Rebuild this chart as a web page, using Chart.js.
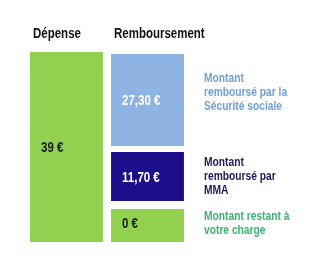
<!DOCTYPE html>
<html>
<head>
<meta charset="utf-8">
<script src="https://cdn.jsdelivr.net/npm/chart.js@4"></script>
<style>
  html, body { margin: 0; padding: 0; background: #fff; }
  #wrap { width: 325px; height: 260px; }
</style>
</head>
<body>
<div id="wrap"><canvas id="chart"></canvas></div>
<script>
const categories = ['Dépense', 'Remboursement'];
// amounts shown in the boxes
const depense = 39;
const partLabels = ['Montant restant à\nvotre charge', 'Montant\nremboursé par\nMMA', 'Montant\nremboursé par la\nSécurité sociale'];
const partAmounts = [0, 11.70, 27.30];
// box heights as drawn in the infographic (not to scale), read in € units of the 39 € column
const partHeights = [7.6, 11.5, 19.9];
const partColors = ['#92d050', '#1d0e8b', '#8db3e2'];
const partText = ['#3cb371', '#1d1a5e', '#6f9fd8'];
const boxText = ['#1a1a1a', '#ffffff', '#ffffff'];

// Arial Narrow look: Liberation Sans squeezed horizontally
const FONT = '"Liberation Sans", Arial, sans-serif';
const NARROW = 0.82;
const euro = v => (v === 0 ? '0' : Number.isInteger(v) ? String(v) : v.toFixed(2).replace('.', ',')) + ' €';

function narrowText(ctx, t, x, y) {
  ctx.save();
  ctx.translate(x, y);
  ctx.scale(NARROW, 1);
  ctx.fillText(t, 0, 0);
  ctx.restore();
}

const datasets = [{
  label: categories[0],
  data: [depense, null],
  backgroundColor: partColors[0],
  amount: depense,
  boxColor: '#1a1a1a',
  borderWidth: 0
}];
partHeights.forEach((h, i) => {
  datasets.push({
    label: partLabels[i],
    data: [null, h],
    backgroundColor: partColors[i],
    borderColor: '#ffffff',
    borderWidth: i === 0 ? { top: 4, bottom: 0, left: 0, right: 0 }
      : i === 1 ? { top: 3, bottom: 4, left: 0, right: 0 }
      : { top: 2, bottom: 3, left: 0, right: 0 },
    borderSkipped: false,
    amount: partAmounts[i],
    boxColor: boxText[i],
    sideColor: partText[i]
  });
});

const textPlugin = {
  id: 'texts',
  afterDatasetsDraw(chart) {
    const ctx = chart.ctx;
    ctx.save();
    ctx.textBaseline = 'middle';
    ctx.textAlign = 'left';
    // column headings
    ctx.font = 'bold 14px ' + FONT;
    ctx.fillStyle = '#111';
    categories.forEach((c, i) => {
      const bar = chart.getDatasetMeta(i === 0 ? 0 : 1).data[i];
      narrowText(ctx, c, bar.x - bar.width / 2 + 3, 34);
    });
    chart.data.datasets.forEach((ds, di) => {
      const bar = chart.getDatasetMeta(di).data[di === 0 ? 0 : 1];
      const top = Math.min(bar.y, bar.base), bottom = Math.max(bar.y, bar.base);
      const cy = (top + bottom) / 2;
      ctx.font = 'bold 14px ' + FONT;
      ctx.fillStyle = ds.boxColor;
      narrowText(ctx, euro(ds.amount), bar.x - bar.width / 2 + 11, cy + 1);
      if (di > 0) {
        const lines = ds.label.split('\n');
        ctx.font = 'bold 12.5px ' + FONT;
        ctx.fillStyle = ds.sideColor;
        const lh = 14;
        let y0 = cy - (lines.length - 1) * lh / 2;
        if (di === 3) y0 -= 8;
        lines.forEach((l, k) => narrowText(ctx, l, 204, y0 + k * lh));
      }
    });
    ctx.restore();
  }
};

new Chart(document.getElementById('chart'), {
  type: 'bar',
  data: { labels: categories, datasets: datasets },
  options: {
    responsive: true,
    maintainAspectRatio: false,
    animation: false,
    events: [],
    layout: { padding: { top: 52, bottom: 18, left: 26, right: 137 } },
    datasets: { bar: { barPercentage: 0.9, categoryPercentage: 1 } },
    scales: {
      x: { stacked: true, display: false },
      y: { stacked: true, display: false, min: 0, max: depense }
    },
    plugins: { legend: { display: false }, tooltip: { enabled: false } }
  },
  plugins: [textPlugin]
});
</script>
</body>
</html>
